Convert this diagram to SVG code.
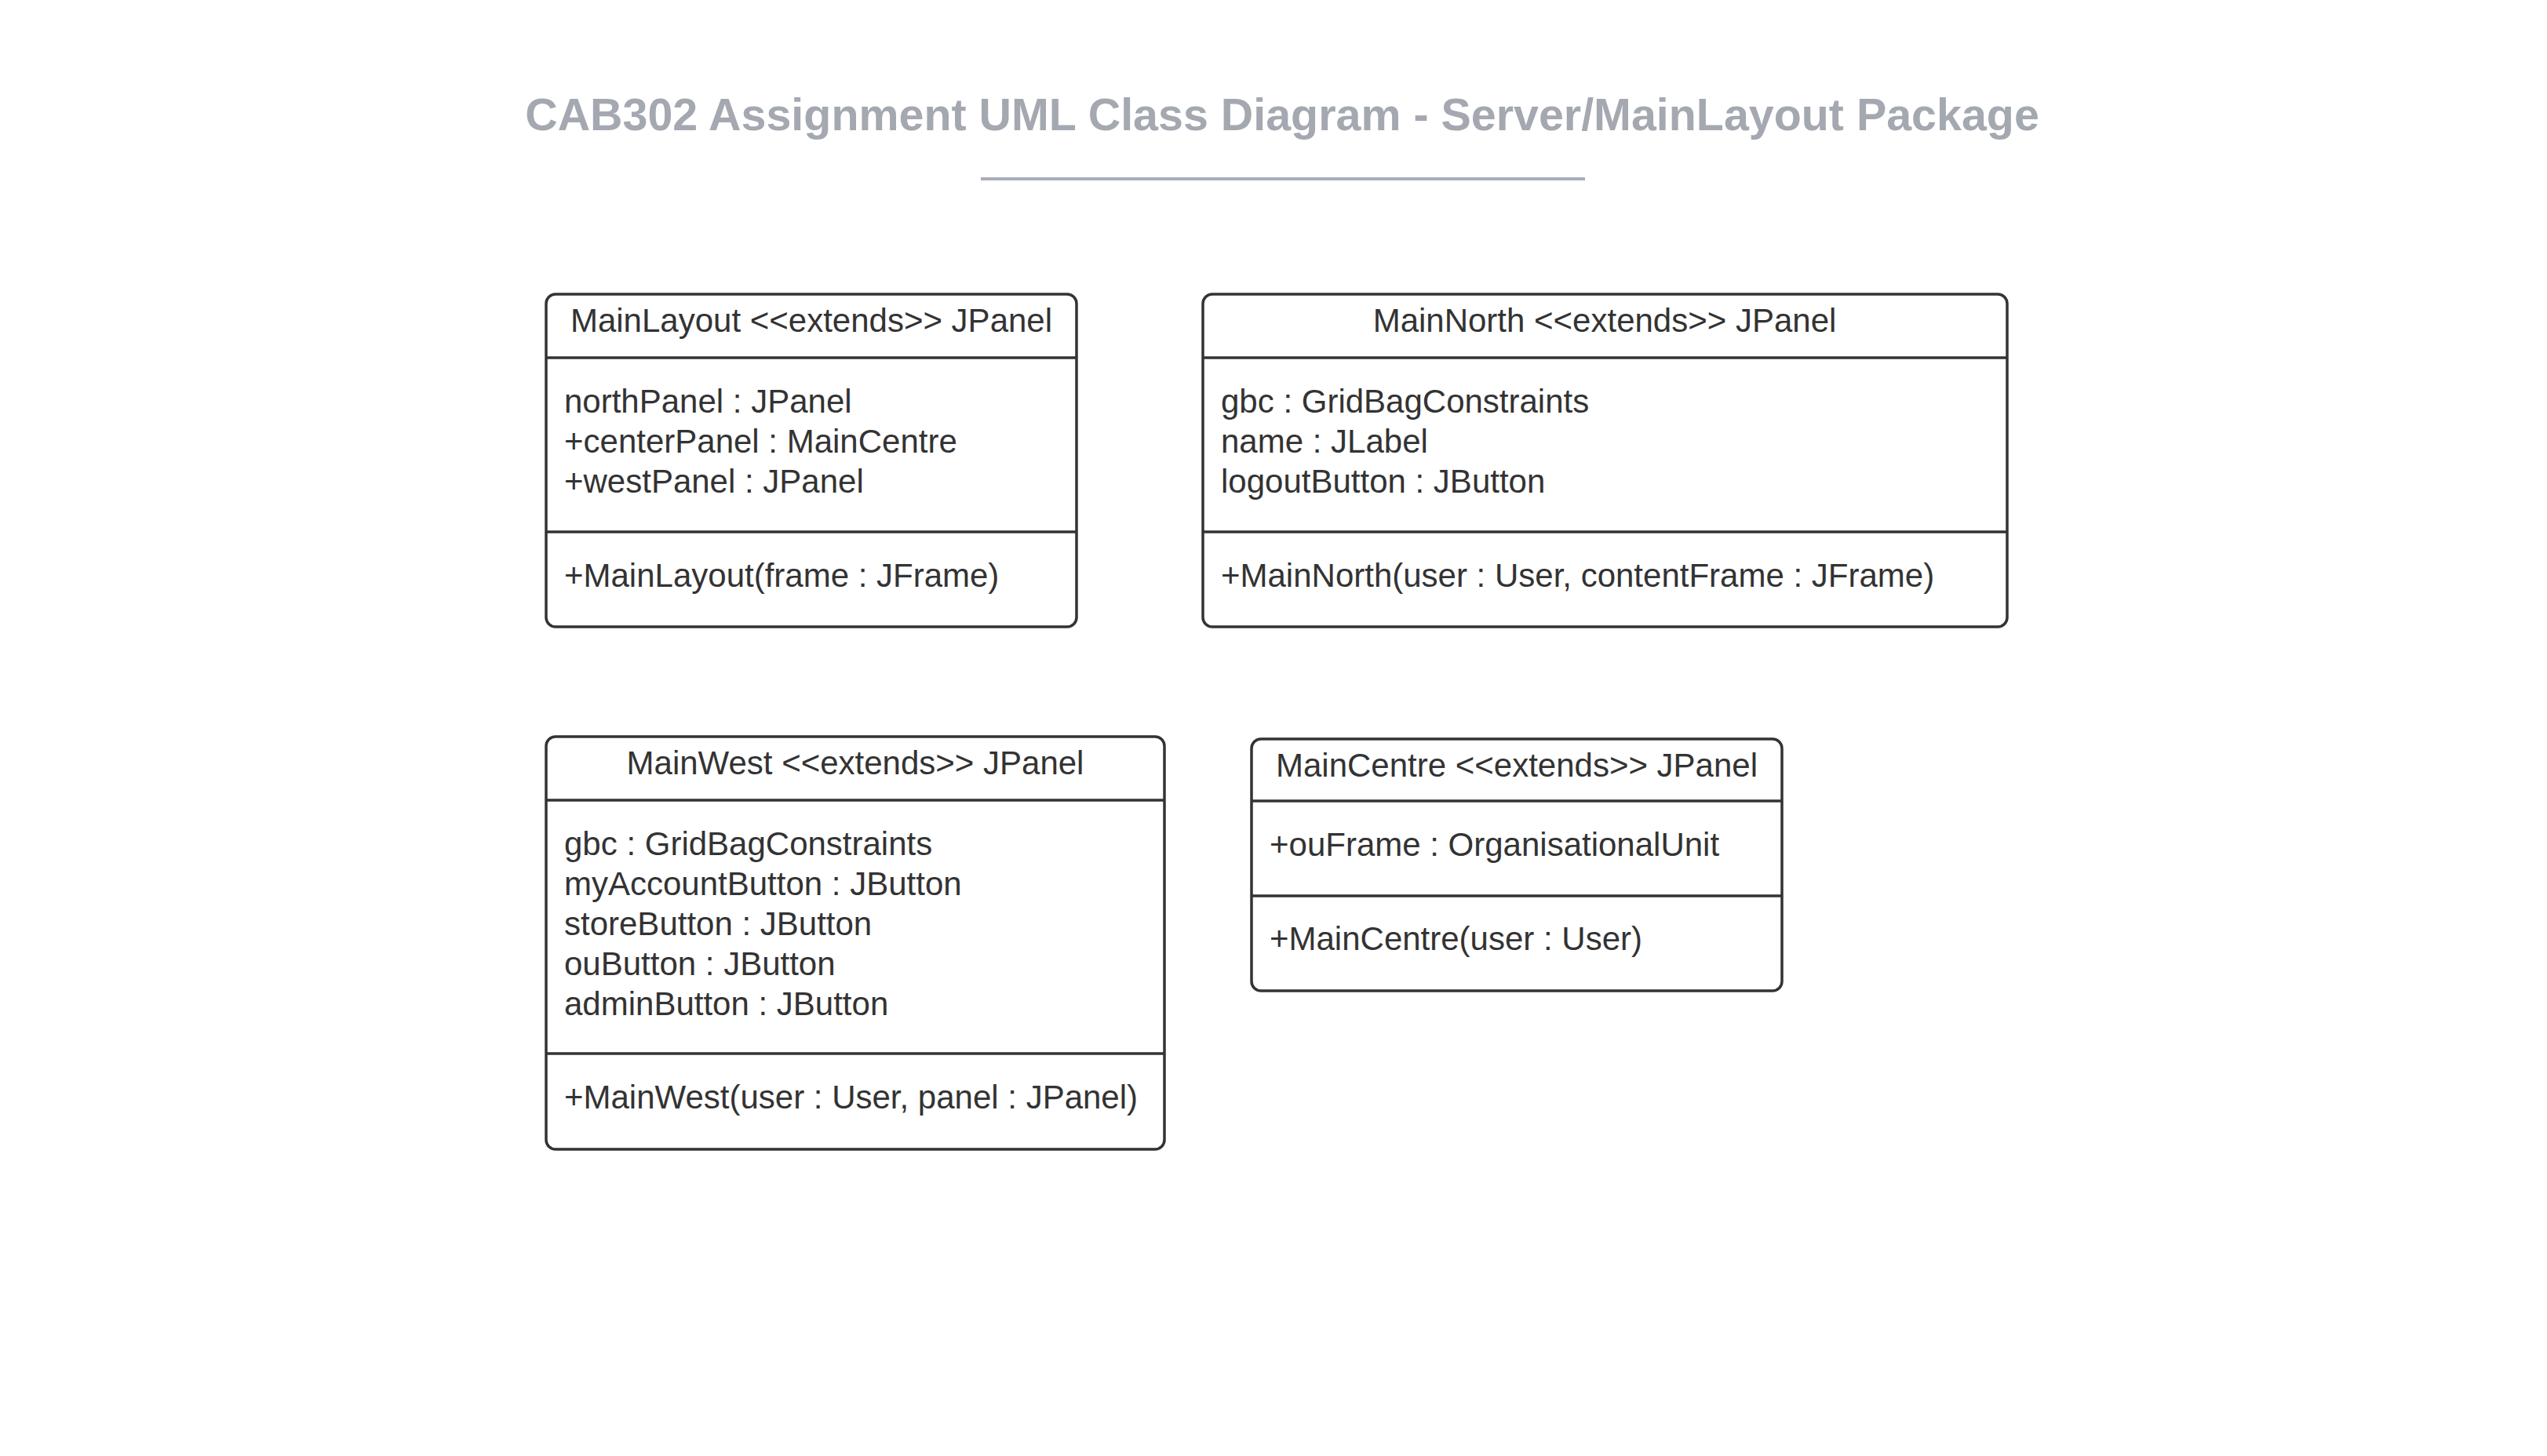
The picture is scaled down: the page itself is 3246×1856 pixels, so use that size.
<svg xmlns="http://www.w3.org/2000/svg" width="3246" height="1856" viewBox="0 0 3246 1856">
<style>
.box{fill:#ffffff;stroke:#333333;stroke-width:3.5}
.div{stroke:#333333;stroke-width:3.5}
.t{font-family:"Liberation Sans",Arial,sans-serif;font-size:42px;fill:#333333}
.h{text-anchor:middle}
.title{font-family:"Liberation Sans",Arial,sans-serif;font-size:57.4px;font-weight:bold;fill:#a4a8b0;text-anchor:middle}
</style>
<rect width="3246" height="1856" fill="#ffffff"/>
<g id="title">
<text class="title" x="1634" y="166">CAB302 Assignment UML Class Diagram - Server/MainLayout Package</text>
<line x1="1250" y1="228" x2="2020" y2="228" stroke="#a9acb9" stroke-width="4"/>
</g>
<g id="MainLayout">
<rect class="box" x="696" y="375" width="676" height="424" rx="12"/>
<line class="div" x1="696" y1="456" x2="1372" y2="456"/>
<line class="div" x1="696" y1="678" x2="1372" y2="678"/>
<text class="t h" x="1034" y="423">MainLayout &lt;&lt;extends&gt;&gt; JPanel</text>
<text class="t" x="719" y="526">northPanel : JPanel</text>
<text class="t" x="719" y="577">+centerPanel : MainCentre</text>
<text class="t" x="719" y="628">+westPanel : JPanel</text>
<text class="t" x="719" y="748">+MainLayout(frame : JFrame)</text>
</g>
<g id="MainNorth">
<rect class="box" x="1533" y="375" width="1025" height="424" rx="12"/>
<line class="div" x1="1533" y1="456" x2="2558" y2="456"/>
<line class="div" x1="1533" y1="678" x2="2558" y2="678"/>
<text class="t h" x="2045" y="423">MainNorth &lt;&lt;extends&gt;&gt; JPanel</text>
<text class="t" x="1556" y="526">gbc : GridBagConstraints</text>
<text class="t" x="1556" y="577">name : JLabel</text>
<text class="t" x="1556" y="628">logoutButton : JButton</text>
<text class="t" x="1556" y="748">+MainNorth(user : User, contentFrame : JFrame)</text>
</g>
<g id="MainWest">
<rect class="box" x="696" y="939" width="788" height="526" rx="12"/>
<line class="div" x1="696" y1="1020" x2="1484" y2="1020"/>
<line class="div" x1="696" y1="1343" x2="1484" y2="1343"/>
<text class="t h" x="1090" y="987">MainWest &lt;&lt;extends&gt;&gt; JPanel</text>
<text class="t" x="719" y="1090">gbc : GridBagConstraints</text>
<text class="t" x="719" y="1141">myAccountButton : JButton</text>
<text class="t" x="719" y="1192">storeButton : JButton</text>
<text class="t" x="719" y="1243">ouButton : JButton</text>
<text class="t" x="719" y="1294">adminButton : JButton</text>
<text class="t" x="719" y="1413">+MainWest(user : User, panel : JPanel)</text>
</g>
<g id="MainCentre">
<rect class="box" x="1595" y="942" width="676" height="321" rx="12"/>
<line class="div" x1="1595" y1="1021" x2="2271" y2="1021"/>
<line class="div" x1="1595" y1="1142" x2="2271" y2="1142"/>
<text class="t h" x="1933" y="990">MainCentre &lt;&lt;extends&gt;&gt; JPanel</text>
<text class="t" x="1618" y="1091">+ouFrame : OrganisationalUnit</text>
<text class="t" x="1618" y="1211">+MainCentre(user : User)</text>
</g>
<g id="connectors"></g>
</svg>
